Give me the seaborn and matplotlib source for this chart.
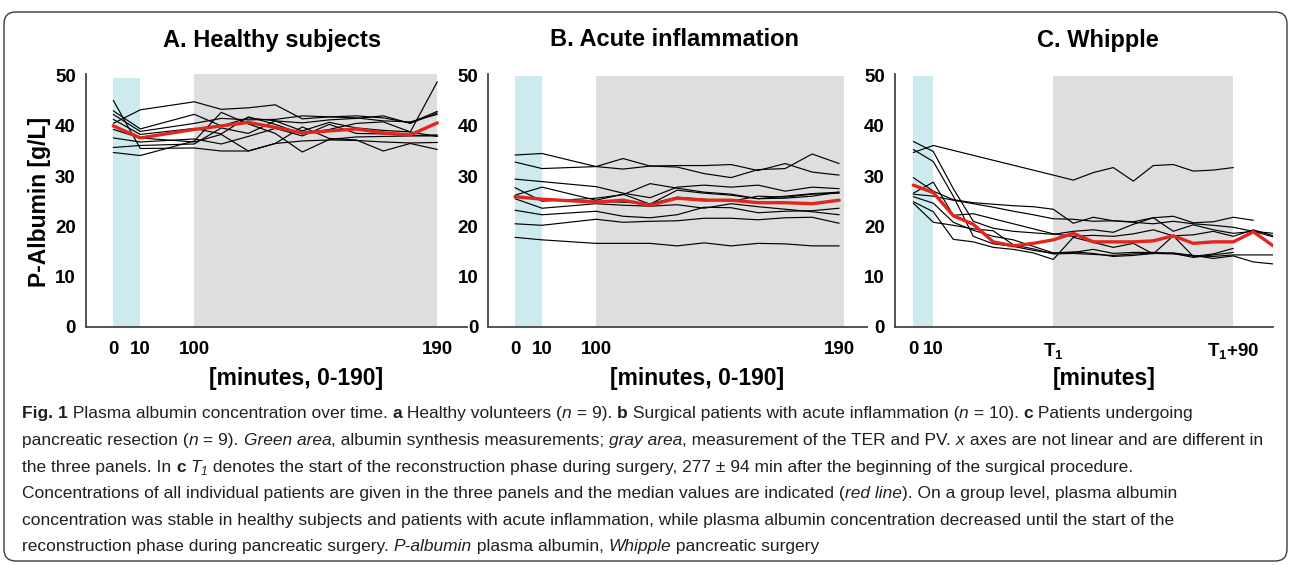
import numpy as np
import pandas as pd
import matplotlib
matplotlib.use("Agg")
import matplotlib.pyplot as plt
import seaborn as sns
from matplotlib import font_manager as fm
from matplotlib.font_manager import FontProperties
from matplotlib.patches import FancyBboxPatch

# ---------------- data ----------------
ab_times = [0, 10, 100, 110, 120, 130, 140, 150, 160, 170, 180, 190]

A_s1 = [40.5, 43.2, 44.8, 43.3, 43.6, 44.2, 41.4, 41.8, 42.0, 41.6, 40.6, 42.9]
A_s2 = [45.1, 35.5, 35.6, 35.0, 35.0, 36.5, 37.0, 37.2, 37.1, 36.8, 36.6, 36.7]
A_s3 = [34.7, 34.1, 37.0, 42.7, 40.4, 38.5, 34.8, 37.3, 37.8, 37.9, 38.0, 38.0]
A_s4 = [43.0, 39.4, 42.3, 40.0, 41.6, 41.0, 40.6, 41.2, 41.5, 42.0, 40.5, 42.6]
A_s5 = [42.3, 38.9, 40.5, 41.5, 41.2, 41.3, 42.0, 41.8, 41.6, 41.0, 40.8, 42.3]
A_s6 = [41.3, 38.3, 39.5, 38.4, 41.8, 40.3, 38.4, 39.3, 40.5, 40.8, 38.8, 48.8]
A_s7 = [39.3, 37.6, 36.8, 38.3, 35.0, 36.5, 39.8, 37.5, 37.2, 35.0, 36.5, 35.3]
A_s8 = [37.6, 36.8, 37.4, 36.4, 37.9, 39.5, 38.0, 40.3, 38.5, 38.4, 38.1, 38.2]
A_s9 = [35.7, 36.1, 36.4, 39.6, 38.5, 41.0, 39.0, 40.7, 39.6, 39.1, 38.8, 37.9]
A_median = [40.0, 37.6, 39.3, 40.0, 40.7, 39.7, 38.6, 39.0, 39.4, 38.6, 38.2, 40.6]

B_s1 = [34.2, 34.5, 31.9, 33.5, 32.0, 31.8, 30.5, 29.7, 31.3, 31.5, 34.4, 32.5]
B_s2 = [32.8, 31.5, 31.9, 31.4, 32.0, 32.1, 32.1, 32.3, 31.1, 32.5, 30.8, 30.2]
B_s3 = [29.4, 28.9, 27.9, 26.6, 25.7, 27.8, 28.2, 27.8, 28.2, 27.0, 27.8, 27.5]
B_s4 = [27.7, 25.0, 25.6, 26.3, 28.5, 27.6, 26.8, 26.4, 25.5, 26.0, 26.5, 26.8]
B_s5 = [26.2, 27.8, 25.2, 26.4, 24.4, 27.2, 26.6, 26.2, 25.5, 25.6, 26.0, 26.8]
B_s6 = [25.5, 23.6, 24.5, 24.2, 24.0, 24.3, 23.6, 24.5, 23.9, 23.4, 22.9, 22.3]
B_s7 = [23.2, 22.3, 23.0, 22.0, 21.7, 22.3, 23.8, 23.7, 22.7, 23.0, 23.1, 23.6]
B_s8 = [20.5, 20.2, 21.4, 20.8, 21.0, 21.1, 21.6, 21.6, 21.3, 21.7, 21.8, 20.6]
B_s9 = [17.8, 17.3, 16.6, 16.6, 16.6, 16.1, 16.7, 16.1, 16.6, 16.5, 16.1, 16.1]
B_s10 = [26.0, 25.3, 25.0, 24.8, 24.5, 25.8, 25.4, 25.0, 26.0, 25.8, 26.4, 26.6]
B_median = [25.9, 25.4, 24.8, 25.2, 24.2, 25.6, 25.2, 25.2, 24.7, 24.7, 24.5, 25.2]

# panel C: 0, 10 min, intra-operative samples, T1 (=70 on the drawn axis) ... T1+110
c_times = [0, 10, 20, 30, 40, 50, 60, 70, 80, 90, 100, 110, 120, 130, 140, 150, 160, 170, 180]
nan = np.nan
C_s1 = [34.7, 36.1, nan, nan, nan, nan, nan, 30.2, 29.2, 30.7, 31.7, 29.0, 32.1, 32.3, 31.0, 31.2, 31.7, nan, nan]
C_s2 = [36.9, 34.9, 27.5, 21.0, 19.6, 19.0, 18.7, 18.4, 19.0, 19.3, 18.8, 20.4, 21.7, 19.0, 20.3, 19.3, 18.6, 19.0, 17.9]
C_s3 = [35.3, 32.9, 26.0, 18.0, 16.5, 16.0, 15.2, 14.6, 14.8, 15.4, 14.6, 14.8, 14.8, 14.6, 13.8, 14.3, 14.8, nan, nan]
C_s4 = [29.7, 27.0, 25.3, 24.7, 24.4, 24.1, 23.9, 23.4, 20.6, 21.8, 21.1, 20.9, 21.7, 22.0, 20.7, 20.9, 21.8, 21.2, nan]
C_s5 = [26.6, 28.8, 22.2, 22.5, 21.5, 20.5, 19.5, 18.5, 18.0, 18.2, 18.0, 18.5, 19.3, 18.1, 18.3, 19.0, 18.0, 19.3, 18.1]
C_s6 = [26.4, 26.0, 25.2, 24.5, 23.8, 23.0, 22.3, 21.5, 21.4, 21.0, 21.1, 20.8, 20.5, 21.0, 20.5, 20.2, 19.8, 19.0, 18.6]
C_s7 = [25.9, 24.6, 20.8, 19.2, 18.0, 17.3, 16.0, 14.7, 14.9, 14.6, 14.0, 14.2, 14.6, 14.5, 14.1, 14.0, 14.3, 14.3, 14.3]
C_s8 = [24.9, 22.9, 17.4, 16.9, 15.8, 15.4, 14.7, 13.4, 17.8, 16.8, 15.8, 16.6, 14.5, 18.1, 14.0, 14.5, 15.6, nan, nan]
C_s9 = [24.6, 20.8, 20.2, 19.5, 19.1, 16.3, 15.5, 14.5, 14.6, 14.4, 14.2, 14.5, 14.6, 14.7, 14.2, 13.6, 14.1, 12.9, 12.5]
C_median = [28.2, 26.7, 22.1, 20.4, 16.9, 16.1, 16.6, 17.3, 18.6, 16.9, 16.9, 16.9, 17.1, 18.1, 16.6, 16.9, 16.9, 18.9, 16.1]

titles = ["A. Healthy subjects", "B. Acute inflammation", "C. Whipple"]
xlabels = ["[minutes, 0-190]", "[minutes, 0-190]", "[minutes]"]
ab_ticks = [0, 10, 100, 190]
ab_ticklabels = ["0", "10", "100", "190"]
c_ticks = [0, 10, 70, 160]
c_ticklabels = ["0", "10", r"T$_1$", r"T$_1$+90"]
y_ticks = [0, 10, 20, 30, 40, 50]
ylabel = "P-Albumin [g/L]"

caption_lines = [
    [("Fig. 1", "b"), (" Plasma albumin concentration over time. ", "r"), ("a", "b"),
     (" Healthy volunteers (", "r"), ("n", "i"), (" = 9). ", "r"), ("b", "b"),
     (" Surgical patients with acute inflammation (", "r"), ("n", "i"), (" = 10). ", "r"),
     ("c", "b"), (" Patients undergoing", "r")],
    [("pancreatic resection (", "r"), ("n", "i"), (" = 9). ", "r"), ("Green area", "i"),
     (", albumin synthesis measurements; ", "r"), ("gray area", "i"),
     (", measurement of the TER and PV. ", "r"), ("x", "i"),
     (" axes are not linear and are different in", "r")],
    [("the three panels. In ", "r"), ("c", "b"), (" ", "r"), ("T", "i"), ("1", "sub"),
     (" denotes the start of the reconstruction phase during surgery, 277 ± 94 min after the beginning of the surgical procedure.", "r")],
    [("Concentrations of all individual patients are given in the three panels and the median values are indicated (", "r"),
     ("red line", "i"), ("). On a group level, plasma albumin", "r")],
    [("concentration was stable in healthy subjects and patients with acute inflammation, while plasma albumin concentration decreased until the start of the", "r")],
    [("reconstruction phase during pancreatic surgery. ", "r"), ("P-albumin", "i"),
     (" plasma albumin, ", "r"), ("Whipple", "i"), (" pancreatic surgery", "r")],
]

# ---------------- style ----------------
W, H = 1290, 565
sns.set_theme(style="white")
plt.rcParams["font.family"] = ["Liberation Sans", "DejaVu Sans"]
plt.rcParams["mathtext.fontset"] = "custom"
plt.rcParams["mathtext.bf"] = "Liberation Sans:bold"
plt.rcParams["mathtext.rm"] = "Liberation Sans:bold"
plt.rcParams["mathtext.default"] = "bf"

SPINE = "#454545"
CYAN = "#cdebef"
GRAY = "#dedede"
RED = "#e3261c"

fig = plt.figure(figsize=(W / 100, H / 100), dpi=100)

kt = np.array([0.0, 10.0, 100.0, 190.0])
ku = np.array([0.0, 10.0, 30.0, 120.0])


def fwd(t):
    t = np.asarray(t, dtype=float)
    return np.where(t < 0, t, np.where(t > 190, t - 70, np.interp(t, kt, ku)))


def inv(u):
    u = np.asarray(u, dtype=float)
    return np.where(u < 0, u, np.where(u > 120, u + 70, np.interp(u, ku, kt)))


y_top_px = 74.0
y0_px = 326.7
ax_h = (y0_px - y_top_px)
ylim_top = 50 * ax_h / (y0_px - 75.7)

panels = [
    dict(left=86.0, right=467.0, times=ab_times, lines=[A_s1, A_s2, A_s3, A_s4, A_s5, A_s6, A_s7, A_s8, A_s9],
         med=A_median, xlim=(-10.1, 201.0), scale=True, cyan=(0, 10, 49.5), gray=(100, 190, 50.3),
         ticks=ab_ticks, tl=ab_ticklabels, title_x=272),
    dict(left=488.3, right=866.7, times=ab_times,
         lines=[B_s1, B_s2, B_s3, B_s4, B_s5, B_s6, B_s7, B_s8, B_s9, B_s10],
         med=B_median, xlim=(-9.9, 200.2), scale=True, cyan=(0, 10, 50.0), gray=(100, 191.7, 50.0),
         ticks=ab_ticks, tl=ab_ticklabels, title_x=675),
    dict(left=895.0, right=1273.3, times=c_times,
         lines=[C_s1, C_s2, C_s3, C_s4, C_s5, C_s6, C_s7, C_s8, C_s9],
         med=C_median, xlim=(-9.15, 180.0), scale=False, cyan=(0, 10, 50.0), gray=(70, 160, 50.0),
         ticks=c_ticks, tl=c_ticklabels, title_x=1098),
]

for i, p in enumerate(panels):
    wpx = p["right"] - p["left"]
    ax = fig.add_axes([p["left"] / W, (H - y0_px) / H, wpx / W, ax_h / H])
    if p["scale"]:
        ax.set_xscale("function", functions=(fwd, inv))
    ax.set_xlim(*p["xlim"])
    ax.set_ylim(0, ylim_top)
    c0, c1, ch = p["cyan"]
    g0, g1, gh = p["gray"]
    ax.fill_between([c0, c1], 0, ch, color=CYAN, lw=0, zorder=0)
    ax.fill_between([g0, g1], 0, gh, color=GRAY, lw=0, zorder=0)

    rows = []
    for j, vals in enumerate(p["lines"]):
        for t, v in zip(p["times"], vals):
            rows.append((t, v, j))
    df = pd.DataFrame(rows, columns=["time", "value", "subject"]).dropna()
    sns.lineplot(data=df, x="time", y="value", units="subject", estimator=None,
                 color="black", linewidth=0.85, ax=ax, legend=False, zorder=2)
    sns.lineplot(x=p["times"], y=p["med"], color=RED, linewidth=2.4, ax=ax, zorder=3)

    ax.set_xticks(p["ticks"])
    ax.set_xticklabels(p["tl"])
    ax.set_yticks(y_ticks)
    ax.minorticks_off()
    for s in ["top", "right"]:
        ax.spines[s].set_visible(False)
    for s in ["left", "bottom"]:
        ax.spines[s].set_color(SPINE)
        ax.spines[s].set_linewidth(1.3)
    ax.tick_params(axis="both", direction="out", length=5.5, width=1.0, color=SPINE,
                   labelsize=13.5, labelcolor="black")
    ax.tick_params(axis="y", pad=1.8)
    ax.tick_params(axis="x", pad=4.5)
    for lab in ax.get_xticklabels() + ax.get_yticklabels():
        lab.set_fontweight("bold")

    ax.set_xlabel(xlabels[i], fontsize=16.5, fontweight="bold", color="black")
    ax.xaxis.label.set_va("baseline")
    ax.xaxis.set_label_coords(0.5 + 20 / wpx, (y0_px - 385.0) / ax_h)

    ax.set_title(titles[i], fontsize=17, fontweight="bold", color="black",
                 x=(p["title_x"] - p["left"]) / wpx, y=(y0_px - 46.5) / ax_h, va="baseline", pad=0)

    if i == 0:
        ax.set_ylabel(ylabel, fontsize=16.5, fontweight="bold", color="black")
        ax.yaxis.label.set_va("center")
        ax.yaxis.set_label_coords((40 - p["left"]) / wpx, 0.5 - 1.4 / ax_h)
    else:
        ax.set_ylabel("")

# ---------------- frame ----------------
frame = FancyBboxPatch((4 / 100, (H - 561) / 100), (1287 - 4) / 100, (561 - 12) / 100,
                       boxstyle="round,pad=0,rounding_size=0.12", transform=fig.dpi_scale_trans,
                       fill=False, ec="#3a3a3a", lw=1.0)
fig.add_artist(frame)

# ---------------- caption ----------------
names = {f.name for f in fm.fontManager.ttflist}
cap_family = "Liberation Sans"
for cand in ["Liberation Sans Narrow", "DejaVu Sans Condensed", "Liberation Sans"]:
    if cand in names:
        cap_family = cand
        break

fig.canvas.draw()
renderer = fig.canvas.get_renderer()


def fprop(style, size):
    if style == "b":
        return FontProperties(family=cap_family, size=size, weight="bold")
    if style == "i":
        return FontProperties(family=cap_family, size=size, style="italic")
    if style == "sub":
        return FontProperties(family=cap_family, size=size * 0.68, style="italic")
    return FontProperties(family=cap_family, size=size)


def seg_w(s, fp):
    w1, _, _ = renderer.get_text_width_height_descent("|" + s + "|", fp, ismath=False)
    w0, _, _ = renderer.get_text_width_height_descent("||", fp, ismath=False)
    return w1 - w0


base = 10.0
w_line2 = sum(seg_w(s, fprop(st, base)) for s, st in caption_lines[1])
cap_size = base * (1268 - 22) / w_line2

baselines = [418.3, 445.0, 471.6, 498.2, 524.8, 551.4]
for line, yb in zip(caption_lines, baselines):
    x = 22.0
    for s, st in line:
        fp = fprop(st, cap_size)
        dy = 3.0 if st == "sub" else 0.0
        fig.text(x / W, 1 - (yb + dy) / H, s, fontproperties=fp, va="baseline", ha="left",
                 color="#231f20")
        x += seg_w(s, fp)

fig.savefig("out.png", dpi=100)
